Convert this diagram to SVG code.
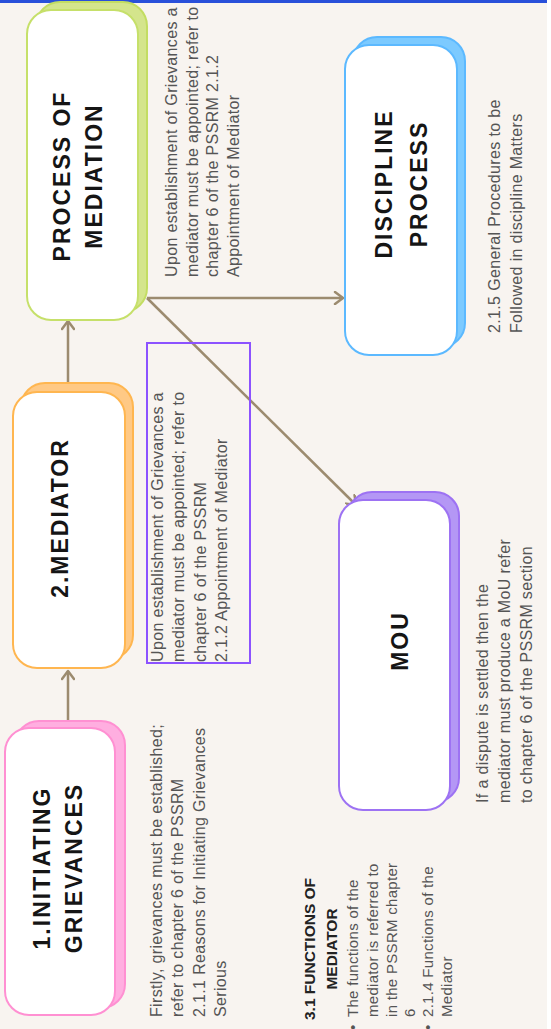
<svg xmlns="http://www.w3.org/2000/svg" width="551" height="1029" viewBox="0 0 551 1029">
<style>
.bg{fill:#f8f4f0}
.card{fill:#ffffff;stroke-width:2}
.shadow{stroke-width:2}
.head{font-family:"Liberation Sans",Arial,sans-serif;font-weight:bold;font-size:23px;letter-spacing:2px;fill:#151515;text-anchor:middle}
.note{font-family:"Liberation Sans",Arial,sans-serif;font-size:16px;letter-spacing:0.35px;fill:#555555}
.small{font-family:"Liberation Sans",Arial,sans-serif;font-size:15px;letter-spacing:0.3px;fill:#555555}
.sub{font-family:"Liberation Sans",Arial,sans-serif;font-weight:bold;font-size:15.5px;fill:#222222;text-anchor:middle}
.conn{stroke:#9c8b6f;stroke-width:2.5;fill:none}
</style>
<defs>
<marker id="arr" markerUnits="userSpaceOnUse" markerWidth="12" markerHeight="14" refX="10" refY="7" orient="auto">
<path d="M2,1 L10,7 L2,13" fill="none" stroke="#9c8b6f" stroke-width="2.5" stroke-linecap="round" stroke-linejoin="round"/>
</marker>
</defs>
<rect class="bg" x="0" y="0" width="547" height="1029"/>
<rect x="547" y="0" width="4" height="1029" fill="#ffffff"/>
<rect x="0" y="0" width="547" height="3" fill="#2950da"/>

<g id="connectors">
<line class="conn" x1="68" y1="721" x2="68" y2="671" marker-end="url(#arr)"/>
<line class="conn" x1="68" y1="383" x2="68" y2="321" marker-end="url(#arr)"/>
<line class="conn" x1="147" y1="298" x2="343" y2="298" marker-end="url(#arr)"/>
<line class="conn" x1="147" y1="298" x2="356" y2="505" marker-end="url(#arr)"/>
</g>

<g id="node-process">
<rect class="shadow" x="36" y="2" width="111" height="310" rx="24" fill="#d4e58c" stroke="#c3dd62"/>
<rect class="card" x="27" y="10" width="111" height="310" rx="24" stroke="#c6e06a"/>
<text class="head" font-size="22" transform="translate(70,176) rotate(-90)"><tspan x="0" y="0">PROCESS OF</tspan><tspan x="0" y="32">MEDIATION</tspan></text>
</g>

<g id="node-mediator">
<rect class="shadow" x="21" y="383" width="112" height="276" rx="24" fill="#ffc985" stroke="#ffb650"/>
<rect class="card" x="13" y="392" width="112" height="276" rx="24" stroke="#ffb650"/>
<text class="head" transform="translate(68,518) rotate(-90)">2.MEDIATOR</text>
</g>

<g id="node-initiating">
<rect class="shadow" x="15" y="721" width="110" height="287" rx="24" fill="#ffaee0" stroke="#ff90d2"/>
<rect class="card" x="5" y="728" width="110" height="287" rx="24" stroke="#ff90d2"/>
<text class="head" transform="translate(50,868) rotate(-90)"><tspan x="0" y="0">1.INITIATING</tspan><tspan x="0" y="32">GRIEVANCES</tspan></text>
</g>

<g id="node-discipline">
<rect class="shadow" x="353" y="37" width="112" height="310" rx="24" fill="#7ccaff" stroke="#5cb9ff"/>
<rect class="card" x="345" y="45" width="112" height="310" rx="24" stroke="#5cb9ff"/>
<text class="head" transform="translate(392,184) rotate(-90)"><tspan x="0" y="0">DISCIPLINE</tspan><tspan x="0" y="35">PROCESS</tspan></text>
</g>

<g id="node-mou">
<rect class="shadow" x="348" y="492" width="111" height="310" rx="24" fill="#b497f5" stroke="#9d72f3"/>
<rect class="card" x="339" y="500" width="111" height="310" rx="24" stroke="#9d72f3"/>
<text class="head" transform="translate(408,641) rotate(-90)">MOU</text>
</g>

<g id="note-initiating">
<text class="note" transform="translate(162,1017) rotate(-90)"><tspan x="0" y="0">Firstly, grievances must be established;</tspan><tspan x="0" y="21.3">refer to chapter 6 of the PSSRM</tspan><tspan x="0" y="42.6">2.1.1 Reasons for Initiating Grievances</tspan><tspan x="0" y="64">Serious</tspan></text>
</g>

<g id="note-mediator">
<rect x="147" y="343" width="103" height="320" fill="none" stroke="#8c52ff" stroke-width="2"/>
<text class="note" transform="translate(163,662) rotate(-90)"><tspan x="0" y="0">Upon establishment of Grievances a</tspan><tspan x="0" y="21.3">mediator must be appointed; refer to</tspan><tspan x="0" y="42.6">chapter 6 of the PSSRM</tspan><tspan x="0" y="64">2.1.2 Appointment of Mediator</tspan></text>
</g>

<g id="note-process">
<text class="note" transform="translate(177,277) rotate(-90)"><tspan x="0" y="0">Upon establishment of Grievances a</tspan><tspan x="0" y="20.7">mediator must be appointed; refer to</tspan><tspan x="0" y="41.4">chapter 6 of the PSSRM 2.1.2</tspan><tspan x="0" y="62">Appointment of Mediator</tspan></text>
</g>

<g id="note-discipline">
<text class="note" letter-spacing="0.1" transform="translate(500,333) rotate(-90)"><tspan x="0" y="0">2.1.5 General Procedures to be</tspan><tspan x="0" y="22">Followed in discipline Matters</tspan></text>
</g>

<g id="note-mou">
<text class="note" transform="translate(488,803) rotate(-90)"><tspan x="0" y="0">If a dispute is settled then the</tspan><tspan x="0" y="22">mediator must produce a MoU refer</tspan><tspan x="0" y="44">to chapter 6 of the PSSRM section</tspan></text>
</g>

<g id="note-functions">
<text class="sub" transform="translate(315,949) rotate(-90)"><tspan x="0" y="0">3.1 FUNCTIONS OF</tspan><tspan x="0" y="22">MEDIATOR</tspan></text>
<text class="small" transform="translate(358,1017) rotate(-90)"><tspan x="-13" y="0">•</tspan><tspan x="0" y="0">The functions of the</tspan><tspan x="0" y="20">mediator is referred to</tspan><tspan x="0" y="39">in the PSSRM chapter</tspan><tspan x="0" y="57">6</tspan><tspan x="-13" y="75">•</tspan><tspan x="0" y="75">2.1.4 Functions of the</tspan><tspan x="0" y="94">Mediator</tspan></text>
</g>
</svg>
